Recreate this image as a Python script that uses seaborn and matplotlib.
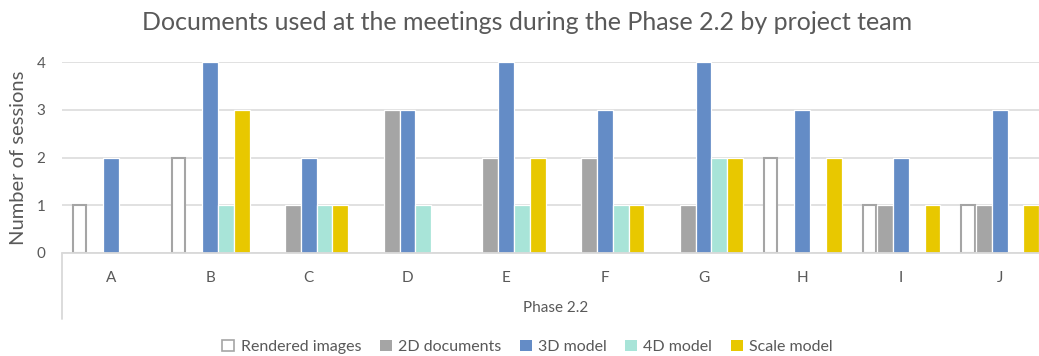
import matplotlib
matplotlib.use("Agg")
import matplotlib.pyplot as plt
import matplotlib.patches as mpatches
import pandas as pd
import seaborn as sns

# Sessions per project team, by kind of document used
teams = ["A", "B", "C", "D", "E", "F", "G", "H", "I", "J"]
rendered_images = [1, 2, 0, 0, 0, 0, 0, 2, 1, 1]
docs_2d = [0, 0, 1, 3, 2, 2, 1, 0, 1, 1]
model_3d = [2, 4, 2, 3, 4, 3, 4, 3, 2, 3]
model_4d = [0, 1, 1, 1, 1, 1, 2, 0, 0, 0]
scale_model = [0, 3, 1, 0, 2, 1, 2, 2, 1, 1]

series_names = ["Rendered images", "2D documents", "3D model", "4D model", "Scale model"]
series_values = [rendered_images, docs_2d, model_3d, model_4d, scale_model]
palette = ["#FFFFFF", "#A5A5A5", "#648CC6", "#A8E4D8", "#E8C800"]
outline_gray = "#A5A5A5"
text_gray = "#595959"
grid_gray = "#D9D9D9"

rows = []
for name, vals in zip(series_names, series_values):
    for team, v in zip(teams, vals):
        rows.append({"team": team, "series": name, "sessions": v})
df = pd.DataFrame(rows)

sns.set_theme(style="white")
plt.rcParams["font.family"] = ["Lato", "DejaVu Sans"]

W, H = 1039, 356
fig = plt.figure(figsize=(W / 100, H / 100), dpi=100)
ax_left, ax_right, ax_bottom, ax_top = 62, 1049, 253, 62
ax = fig.add_axes([ax_left / W, (H - ax_bottom) / H,
                   (ax_right - ax_left) / W, (ax_bottom - ax_top) / H])

sns.barplot(data=df, x="team", y="sessions", hue="series", order=teams,
            hue_order=series_names, palette=palette, width=0.8,
            saturation=1, edgecolor="white", linewidth=0.9, legend=False, ax=ax)

# Rendered images: hollow bars with a gray outline
for bar in ax.containers[0]:
    if bar.get_height() > 0:
        inset = bar.get_width() * 0.08
        bar.set_x(bar.get_x() + inset)
        bar.set_width(bar.get_width() - 2 * inset)
        bar.set_facecolor("white")
        bar.set_edgecolor(outline_gray)
        bar.set_linewidth(1.5)
    else:
        bar.set_visible(False)
for cont in ax.containers[1:]:
    for bar in cont:
        if bar.get_height() == 0:
            bar.set_visible(False)

ax.set_xlim(-0.5, len(teams) - 0.5)
ax.set_ylim(0, 4)
ax.set_yticks([0, 1, 2, 3, 4])
ax.yaxis.grid(True, color=grid_gray, linewidth=1.1)
ax.set_axisbelow(True)
for s in ax.spines.values():
    s.set_visible(False)

ax.tick_params(axis="y", length=0, pad=12, labelsize=11, labelcolor=text_gray)
ax.tick_params(axis="x", length=0, pad=13, labelsize=11, labelcolor=text_gray)
ax.set_xlabel("")
ax.set_ylabel("Number of sessions", fontsize=14.5, color=text_gray)
ax.yaxis.set_label_coords((27 - ax_left) / (ax_right - ax_left), 0.5)

# Two-level category axis: baseline, left divider and group label
ax_h = ax_bottom - ax_top
ax.plot([0, 1], [0, 0], transform=ax.transAxes, color=grid_gray,
        linewidth=1.3, clip_on=False, zorder=3)
ax.plot([0, 0], [0, (ax_bottom - 319) / ax_h], transform=ax.transAxes,
        color=grid_gray, linewidth=1.3, clip_on=False)
ax.text(0.5, (ax_bottom - 308) / ax_h, "Phase 2.2", transform=ax.transAxes,
        ha="center", va="center", fontsize=11, color=text_gray)

center_x = 527.5 / W
fig.text(center_x, (H - 22) / H,
         "Documents used at the meetings during the Phase 2.2 by project team",
         ha="center", va="center", fontsize=18, color=text_gray)

handles = []
for name, col in zip(series_names, palette):
    ec = outline_gray if col == "#FFFFFF" else col
    handles.append(mpatches.Patch(facecolor=col, edgecolor=ec,
                                  linewidth=1.2 if col == "#FFFFFF" else 0, label=name))
fig.legend(handles=handles, loc="center", bbox_to_anchor=(center_x, 9 / H),
           ncol=5, frameon=False, fontsize=11.5, labelcolor=text_gray,
           handlelength=0.75, handleheight=0.75, handletextpad=0.4,
           columnspacing=1.15)

fig.savefig("out.png", dpi=100)
